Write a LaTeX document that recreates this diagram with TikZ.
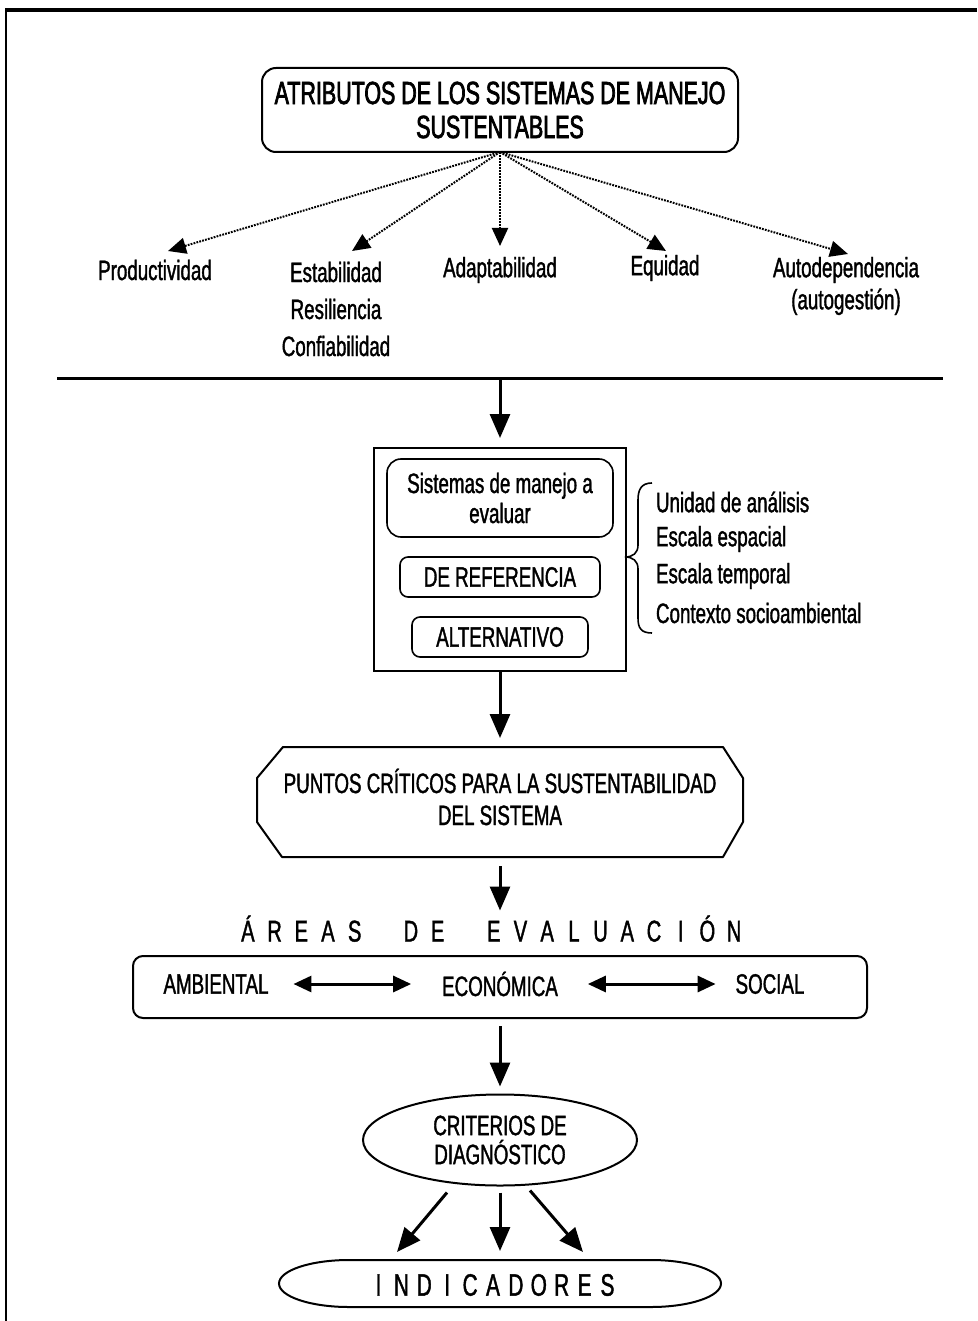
\documentclass[tikz,border=0pt]{standalone}
\usepackage{fontspec}
\setmainfont{Liberation Sans}[FakeStretch=0.67, FakeBold=1.3]
\usetikzlibrary{arrows.meta,calc,shapes.geometric}

% letter-spaced capitals
\newcommand{\wideltr}[1]{\makebox[26.7pt]{#1}}
\newcommand{\narrowltr}[1]{\makebox[22.9pt]{#1}}

\tikzset{
  every node/.style={inner sep=0pt, outer sep=0pt},
  txt/.style={font=\fontsize{28}{30}\selectfont, align=center},
  titlebox/.style={draw, line width=2pt, rounded corners=14pt,
    minimum width=476pt, minimum height=84pt,
    font=\fontsize{32}{34}\selectfont\addfontfeature{FakeBold=2.2}, align=center},
  innerbox/.style={draw, line width=1.6pt, rounded corners=8pt, txt},
  dotarrow/.style={line width=2pt, dash pattern=on 1.8pt off 1.2pt,
    -{Triangle[width=16pt,length=18pt]}},
  bigarrow/.style={line width=3pt, -{Triangle[width=20pt,length=24pt]}},
  dblarrow/.style={line width=3pt,
    {Triangle[width=16pt,length=18pt]}-{Triangle[width=16pt,length=18pt]}},
  listitem/.style={txt, anchor=west},
}

\begin{document}
\begin{tikzpicture}[x=1pt,y=-1pt]
\useasboundingbox (0,0) rectangle (977,1321);

% page frame
\draw[line width=4pt] (5,10) -- (977,10);
\draw[line width=2pt] (6,9) -- (6,1321);

% attributes
\node[titlebox] (title) at (500,110) {ATRIBUTOS DE LOS SISTEMAS DE MANEJO\\SUSTENTABLES};

\node[txt] (prod) at (155,270) {Productividad};
\node[txt, font=\fontsize{28}{37}\selectfont] (estab) at (336,309) {Estabilidad\\Resiliencia\\Confiabilidad};
\node[txt] (adapt) at (500,270) {Adaptabilidad};
\node[txt] (equid) at (665,268) {Equidad};
\node[txt, font=\fontsize{28}{32}\selectfont] (autod) at (846,286) {Autodependencia\\(autogestión)};

\coordinate (tprod) at (168,251);
\coordinate (testab) at (352,251);
\coordinate (tadapt) at (500,246);
\coordinate (tequid) at (666,251);
\coordinate (tautod) at (848,254);

\foreach \t in {tprod,testab,tadapt,tequid,tautod}
  \draw[dotarrow] (title.south) -- (\t);

% separator
\draw[line width=3pt] (57,378) -- (943,378);
\coordinate (hl) at (500,378);

% systems to evaluate
\node[draw, line width=2.5pt, minimum width=252pt, minimum height=223pt] (sysframe) at (500,559.5) {};
\node[innerbox, rounded corners=14pt, minimum width=226pt, minimum height=78pt] (sist) at (500,498) {Sistemas de manejo a\\evaluar};
\node[innerbox, minimum width=200pt, minimum height=40pt] (ref) at (500,577) {DE REFERENCIA};
\node[innerbox, minimum width=176pt, minimum height=40pt] (alt) at (500,637) {ALTERNATIVO};

\draw[bigarrow, shorten >=10pt] (hl) -- (sysframe.north);

% brace and its list
\draw[line width=1.6pt] (652,483) .. controls (641,483) and (638,490) .. (638,500)
  -- (638,545) .. controls (638,553) and (633,557) .. (625,557)
  .. controls (633,557) and (638,561) .. (638,569)
  -- (638,618) .. controls (638,628) and (641,633) .. (652,633);
\node[listitem] (unidad) at (656,502) {Unidad de análisis};
\node[listitem] (espacial) at (656,539) {Escala espacial};
\node[listitem] (temporal) at (656,576) {Escala temporal};
\node[listitem] (contexto) at (656,613) {Contexto socioambiental};

% critical points: chamfered outline around the text
\node[txt, font=\fontsize{28}{32}\selectfont] (punt) at (500,797) {PUNTOS CRÍTICOS PARA LA SUSTENTABILIDAD\\DEL SISTEMA};
\coordinate (puntN) at (500,747);
\coordinate (puntS) at (500,857);
\draw[line width=2pt, line join=round]
  ($(punt.center)+(-217,-50)$) -- ($(punt.center)+(223,-50)$)
  -- ($(punt.center)+(243,-19)$) -- ($(punt.center)+(243,25)$)
  -- ($(punt.center)+(223,60)$) -- ($(punt.center)+(-218,60)$)
  -- ($(punt.center)+(-243,25)$) -- ($(punt.center)+(-243,-19)$) -- cycle;

\draw[bigarrow, shorten >=9pt] (sysframe.south) -- (puntN);

% evaluation areas
\node[font=\fontsize{30}{30}\selectfont, text height=21pt, text depth=0pt] (arealbl) at (491,931)
  {\wideltr{Á}\wideltr{R}\wideltr{E}\wideltr{A}\wideltr{S}\hspace{29.5pt}%
   \wideltr{D}\wideltr{E}\hspace{29.5pt}%
   \wideltr{E}\wideltr{V}\wideltr{A}\wideltr{L}\wideltr{U}\wideltr{A}\wideltr{C}\wideltr{I}\wideltr{Ó}\wideltr{N}};
\draw[bigarrow, shorten <=9pt, shorten >=10pt] (puntS) -- (puntS |- arealbl.north);

\node[draw, line width=2pt, rounded corners=10pt, minimum width=734pt, minimum height=62pt] (areabox) at (500,987) {};
\node[txt] (amb) at (216,984) {AMBIENTAL};
\node[txt] (eco) at (500,984) {ECONÓMICA};
\node[txt] (soc) at (770,984) {SOCIAL};
\draw[dblarrow, shorten <=25pt, shorten >=31pt] (amb) -- (eco);
\draw[dblarrow, shorten <=30pt, shorten >=20pt] (eco) -- (soc);

% diagnosis criteria
\node[ellipse, draw, line width=2pt, minimum width=274pt, minimum height=91pt,
  txt, font=\fontsize{28}{29}\selectfont] (critd) at (500,1140) {CRITERIOS DE\\DIAGNÓSTICO};
\draw[bigarrow, shorten <=8pt, shorten >=8pt] (areabox) -- (critd);

% indicators
\node[minimum width=442pt, minimum height=47pt] (indic) at (500,1283.5) {};
\draw[line width=2pt]
  ($(indic.north west)+(70,0)$) -- ($(indic.north east)+(-70,0)$)
  arc[start angle=-90, end angle=90, x radius=70, y radius=23.5]
  -- ($(indic.south west)+(70,0)$)
  arc[start angle=90, end angle=270, x radius=70, y radius=23.5];
\node[font=\fontsize{31}{30}\selectfont] (indtxt) at (493,1285)
  {\narrowltr{I}\narrowltr{N}\narrowltr{D}\narrowltr{I}\narrowltr{C}\narrowltr{A}\narrowltr{D}\narrowltr{O}\narrowltr{R}\narrowltr{E}\narrowltr{S}};

\draw[bigarrow] ($(critd.south)+(-53,7)$) -- ($(indic.north)+(-103,-8)$);
\draw[bigarrow] ($(critd.south)+(0,7)$) -- ($(indic.north)+(0,-9)$);
\draw[bigarrow] ($(critd.south)+(30,5)$) -- ($(indic.north)+(83,-8)$);

\end{tikzpicture}
\end{document}
